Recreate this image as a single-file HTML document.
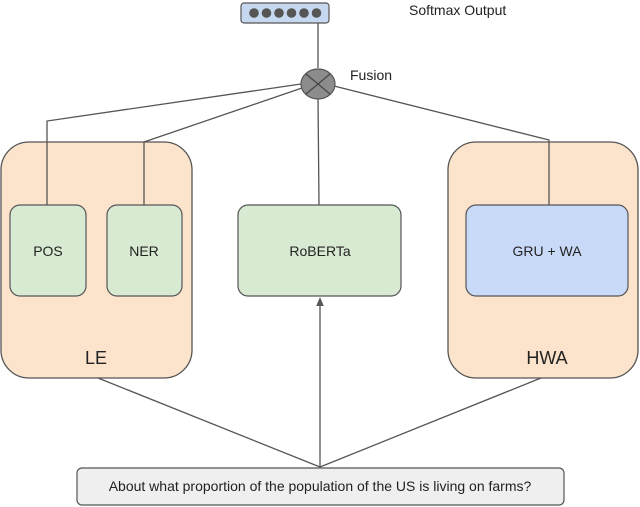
<!DOCTYPE html>
<html><head><meta charset="utf-8"><style>
html,body{margin:0;padding:0;background:#fff;width:640px;height:507px;overflow:hidden}
text{font-family:"Liberation Sans",Arial,sans-serif;fill:#222}
</style></head><body>
<svg width="640" height="507" viewBox="0 0 640 507" xmlns="http://www.w3.org/2000/svg">
<defs><marker id="ah" markerWidth="8" markerHeight="8" refX="4" refY="4" orient="auto"><path d="M0,1 L7,4 L0,7 z" fill="#555"/></marker></defs>
<rect x="1" y="142" width="191" height="236" rx="28" fill="#fce4cc" stroke="#555" stroke-width="1.3"/>
<rect x="448" y="142" width="190" height="236" rx="28" fill="#fce4cc" stroke="#555" stroke-width="1.3"/>
<g stroke="#555" stroke-width="1.3" fill="none">
<line x1="318" y1="23" x2="318" y2="68"/>
<polyline points="47,205 47,121 301,84"/>
<polyline points="144,205 144,142 302,88"/>
<polyline points="549,205 549,140 334,86"/>
<line x1="318" y1="98" x2="319" y2="205"/>
<line x1="320" y1="467" x2="98" y2="378"/>
<line x1="320" y1="467" x2="541" y2="378"/>
<line x1="320" y1="467" x2="320" y2="301" marker-end="url(#ah)"/>
</g>
<rect x="241" y="3" width="88" height="20" rx="3" fill="#c6d8ef" stroke="#555" stroke-width="1.2"/>
<g fill="#555"><circle cx="254" cy="13" r="4.8"/><circle cx="266.5" cy="13" r="4.8"/><circle cx="279" cy="13" r="4.8"/><circle cx="291.5" cy="13" r="4.8"/><circle cx="304" cy="13" r="4.8"/><circle cx="316.5" cy="13" r="4.8"/></g>
<text x="409" y="15" font-size="14">Softmax Output</text>
<ellipse cx="318" cy="84" rx="17" ry="15" fill="#8c8c8c" stroke="#555" stroke-width="1.2"/>
<line x1="306" y1="74" x2="330" y2="94" stroke="#444" stroke-width="1.2"/>
<line x1="330" y1="74" x2="306" y2="94" stroke="#444" stroke-width="1.2"/>
<text x="350" y="80" font-size="14">Fusion</text>
<rect x="10" y="205" width="76" height="91" rx="10" fill="#d9ead3" stroke="#555" stroke-width="1.2"/>
<rect x="107" y="205" width="75" height="91" rx="10" fill="#d9ead3" stroke="#555" stroke-width="1.2"/>
<rect x="238" y="205" width="163" height="91" rx="10" fill="#d9ead3" stroke="#555" stroke-width="1.2"/>
<rect x="466" y="205" width="162" height="91" rx="10" fill="#c9daf8" stroke="#555" stroke-width="1.2"/>
<text x="48" y="256" font-size="14" text-anchor="middle">POS</text>
<text x="144" y="256" font-size="14" text-anchor="middle">NER</text>
<text x="320" y="256" font-size="14" text-anchor="middle">RoBERTa</text>
<text x="547" y="256" font-size="14" text-anchor="middle">GRU + WA</text>
<text x="96" y="364" font-size="18" text-anchor="middle">LE</text>
<text x="547" y="364" font-size="18" text-anchor="middle">HWA</text>
<rect x="77" y="468" width="487" height="37" rx="5" fill="#efefef" stroke="#555" stroke-width="1.2"/>
<text x="320" y="491" font-size="14" text-anchor="middle">About what proportion of the population of the US is living on farms?</text>
</svg>
</body></html>
